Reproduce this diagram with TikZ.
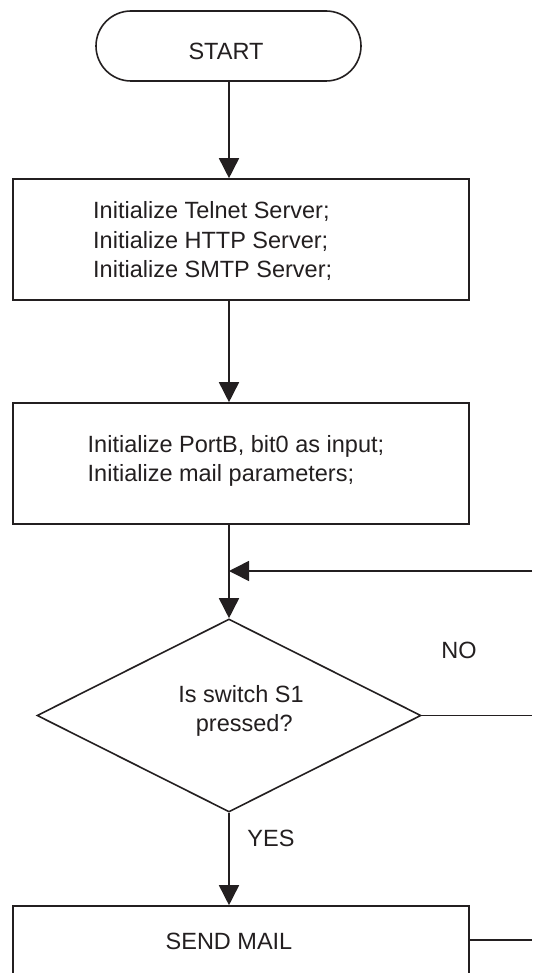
\documentclass[tikz,border=0pt]{standalone}
\usepackage{fontspec}
\setmainfont{Liberation Sans}
\usetikzlibrary{shapes.geometric,arrows.meta}
\definecolor{ink}{HTML}{231F20}
\begin{document}
\begin{tikzpicture}[x=1pt,y=-1pt,
  every node/.style={text=ink, font=\fontsize{23.5}{29.5}\selectfont},
  line/.style={draw=ink, line width=1.6pt},
  arr/.style={line, -{Triangle[length=20pt,width=20pt]}},
  procbox/.style={draw=ink, line width=1.6pt, rectangle, minimum width=456pt, inner sep=0pt},
  label/.style={inner sep=0pt}]
\useasboundingbox (0,0) rectangle (532,973);
\fill[white] (0,0) rectangle (532,973);
% nodes
\node[draw=ink, line width=1.6pt, rectangle, rounded corners=35pt, minimum width=265pt, minimum height=70pt, inner sep=0pt] (start) at (228.5,46) {};
\node[label] (starttxt) at (226,51) {START};
\node[procbox, minimum height=121pt] (box1) at (241,239.5) {};
\node[label, anchor=west, align=left] (box1txt) at (93,241) {Initialize Telnet Server;\\Initialize HTTP Server;\\Initialize SMTP Server;};
\node[procbox, minimum height=121pt] (box2) at (241,463.5) {};
\node[label, anchor=west, align=left] (box2txt) at (87.5,461) {Initialize PortB, bit0 as input;\\Initialize mail parameters;};
\node[draw=ink, line width=1.6pt, diamond, minimum width=384pt, minimum height=193pt, inner sep=0pt] (dia) at (229,715.5) {};
\node[label, align=center] (diatxt) at (241,711) {Is switch S1\\\ pressed?};
\node[procbox, minimum height=68pt] (send) at (241,940) {};
\node[label] (sendtxt) at (229,941) {SEND MAIL};
\node[label] (no) at (459,650) {NO};
\node[label] (yes) at (271,838) {YES};
\coordinate (ret) at (532,571);
\coordinate (noend) at (532,715.5);
\coordinate (sendend) at (532,940);
% connectors
\draw[arr] (start.south -| dia.north) -- (box1.north -| dia.north);
\draw[arr] (box1.south -| dia.north) -- (box2.north -| dia.north);
\draw[arr] (box2.south -| dia.north) -- (dia.north);
\draw[arr] (ret) -- (ret -| dia.north);
\draw[line] (dia.east) -- (noend);
\draw[arr] (dia.south) -- (send.north -| dia.south);
\draw[line] (send.east) -- (sendend);
\end{tikzpicture}
\end{document}
